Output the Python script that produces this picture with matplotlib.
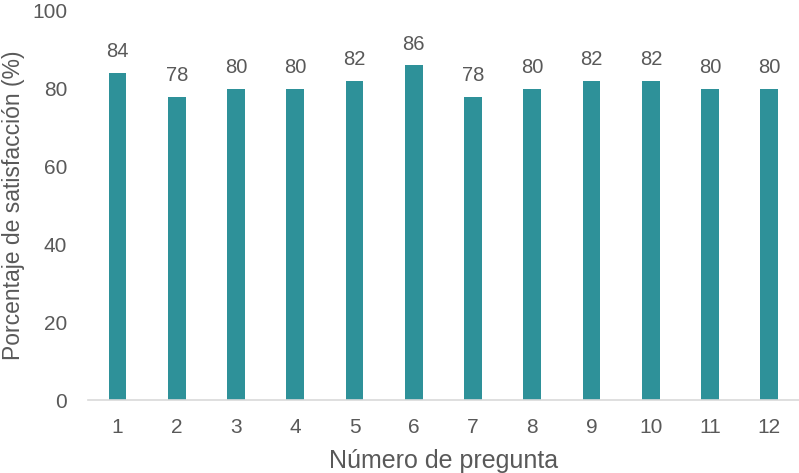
import matplotlib
matplotlib.use("Agg")
import matplotlib.pyplot as plt

preguntas = [str(i) for i in range(1, 13)]
satisfaccion = [84, 78, 80, 80, 82, 86, 78, 80, 82, 82, 80, 80]

bar_color = "#2E9199"
text_color = "#595959"

plt.rcParams["font.family"] = ["Liberation Sans", "DejaVu Sans"]

fig = plt.figure(figsize=(7.99, 4.73), dpi=100)
ax = fig.add_axes([0.110, 0.154, 0.890, 0.823])

x = list(range(len(preguntas)))
ax.bar(x, satisfaccion, width=0.3, color=bar_color, zorder=2)
for xi, v in zip(x, satisfaccion):
    ax.text(xi, v + 3.0, f"{v}", ha="center", va="bottom", fontsize=14.5, color=text_color)

ax.set_xlim(-0.5, len(preguntas) - 0.5)
ax.set_ylim(0, 100)
ax.set_xticks(x)
ax.set_xticklabels(preguntas)
ax.set_yticks(range(0, 101, 20))

for s in ["top", "right", "left"]:
    ax.spines[s].set_visible(False)
ax.spines["bottom"].set_color("#D9D9D9")
ax.spines["bottom"].set_linewidth(1.2)

ax.tick_params(axis="both", length=0, labelsize=15, labelcolor=text_color)
ax.tick_params(axis="x", pad=13)
ax.tick_params(axis="y", pad=15)

ax.set_xlabel("Número de pregunta", fontsize=18, color=text_color, va="center")
ax.xaxis.set_label_coords(0.5, -0.157)
ax.set_ylabel("Porcentaje de satisfacción (%)", fontsize=16.5, color=text_color, va="center")
ax.yaxis.set_label_coords(-0.104, 0.5)

fig.savefig("out.png", dpi=100)
